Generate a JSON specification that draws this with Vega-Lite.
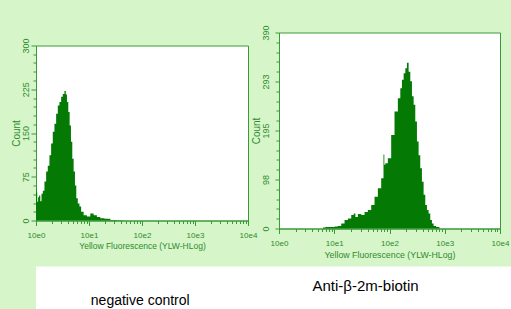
{
  "$schema": "https://vega.github.io/schema/vega-lite/v6.json",
  "background": "#d6f5c8",
  "padding": {"left": 10, "top": 23.5, "right": 0, "bottom": 0},
  "config": {
    "font": "Liberation Sans",
    "view": {"stroke": "#3a9a3a", "fill": "white"},
    "axis": {
      "grid": false,
      "domainColor": "#3a9a3a",
      "tickColor": "#3a9a3a",
      "labelColor": "#2e8b2e",
      "titleColor": "#2e8b2e",
      "titleFontWeight": "normal",
      "labelOverlap": false,
      "labelFlush": false
    }
  },
  "datasets": {
    "neg": [
      {"fluor": 1.0, "count": 55}, {"fluor": 1.04, "count": 48}, {"fluor": 1.07, "count": 32},
      {"fluor": 1.12, "count": 40}, {"fluor": 1.17, "count": 43}, {"fluor": 1.24, "count": 33},
      {"fluor": 1.30, "count": 46}, {"fluor": 1.39, "count": 51}, {"fluor": 1.50, "count": 67},
      {"fluor": 1.61, "count": 84}, {"fluor": 1.73, "count": 94}, {"fluor": 1.86, "count": 112},
      {"fluor": 2.00, "count": 132}, {"fluor": 2.15, "count": 152}, {"fluor": 2.31, "count": 166},
      {"fluor": 2.49, "count": 183}, {"fluor": 2.67, "count": 197}, {"fluor": 2.87, "count": 203},
      {"fluor": 3.09, "count": 212}, {"fluor": 3.32, "count": 217}, {"fluor": 3.57, "count": 222},
      {"fluor": 3.73, "count": 216}, {"fluor": 3.95, "count": 203}, {"fluor": 4.19, "count": 186},
      {"fluor": 4.44, "count": 163}, {"fluor": 4.70, "count": 135}, {"fluor": 4.98, "count": 106},
      {"fluor": 5.28, "count": 84}, {"fluor": 5.59, "count": 60}, {"fluor": 5.93, "count": 38},
      {"fluor": 6.37, "count": 29}, {"fluor": 6.85, "count": 24}, {"fluor": 7.36, "count": 15},
      {"fluor": 8.51, "count": 9}, {"fluor": 9.84, "count": 7}, {"fluor": 11.4, "count": 12},
      {"fluor": 13.1, "count": 9}, {"fluor": 15.2, "count": 6}, {"fluor": 17.6, "count": 4},
      {"fluor": 21.8, "count": 3}, {"fluor": 29.2, "count": 1}, {"fluor": 38.9, "count": 0.5},
      {"fluor": 52, "count": 0}
    ],
    "pos": [
      {"fluor": 6.25, "count": 2}, {"fluor": 7.69, "count": 3}, {"fluor": 9.47, "count": 3},
      {"fluor": 10.9, "count": 4}, {"fluor": 12.5, "count": 5}, {"fluor": 14.3, "count": 10},
      {"fluor": 16.5, "count": 17}, {"fluor": 18.9, "count": 20}, {"fluor": 21.8, "count": 27},
      {"fluor": 23.3, "count": 30}, {"fluor": 25.0, "count": 23}, {"fluor": 28.7, "count": 29},
      {"fluor": 33.0, "count": 27}, {"fluor": 37.9, "count": 33}, {"fluor": 43.5, "count": 37},
      {"fluor": 50.0, "count": 47}, {"fluor": 57.4, "count": 63}, {"fluor": 66.0, "count": 80},
      {"fluor": 75.8, "count": 100}, {"fluor": 80.0, "count": 147}, {"fluor": 81.2, "count": 127},
      {"fluor": 87.1, "count": 130}, {"fluor": 100, "count": 140}, {"fluor": 115, "count": 186},
      {"fluor": 132, "count": 233}, {"fluor": 152, "count": 259}, {"fluor": 162, "count": 279},
      {"fluor": 174, "count": 296}, {"fluor": 187, "count": 309}, {"fluor": 200, "count": 319},
      {"fluor": 214, "count": 330}, {"fluor": 230, "count": 312}, {"fluor": 246, "count": 293},
      {"fluor": 264, "count": 263}, {"fluor": 283, "count": 246}, {"fluor": 303, "count": 213},
      {"fluor": 325, "count": 173}, {"fluor": 348, "count": 146}, {"fluor": 373, "count": 120},
      {"fluor": 400, "count": 93}, {"fluor": 429, "count": 67}, {"fluor": 460, "count": 47},
      {"fluor": 493, "count": 37}, {"fluor": 528, "count": 30}, {"fluor": 566, "count": 17},
      {"fluor": 607, "count": 10}, {"fluor": 650, "count": 5}, {"fluor": 747, "count": 3},
      {"fluor": 859, "count": 0}
    ],
    "captions": [
      {"caption": "negative control"},
      {"caption": "Anti-β-2m-biotin"}
    ]
  },
  "spacing": 6,
  "vconcat": [
    {
      "spacing": -8,
      "hconcat": [
        {
          "spacing": 0,
          "vconcat": [
            {
              "width": 1,
              "height": 4,
              "view": {"fill": null, "stroke": null},
              "data": {"values": []},
              "mark": "point"
            },
            {
              "width": 212,
              "height": 175,
              "data": {"name": "neg"},
              "mark": {"type": "area", "interpolate": "step", "color": "#047a04"},
              "encoding": {
                "x": {
                  "field": "fluor", "type": "quantitative",
                  "scale": {"type": "log", "domain": [1, 10000]},
                  "axis": {
                    "values": [1,2,3,4,5,6,7,8,9,10,20,30,40,50,60,70,80,90,100,200,300,400,500,600,700,800,900,1000,2000,3000,4000,5000,6000,7000,8000,9000,10000],
                    "labelExpr": "indexof([1,10,100,1000,10000], datum.value) >= 0 ? '10e' + round(log(datum.value)/LN10) : ''",
                    "tickSize": {"condition": {"test": "indexof([1,10,100,1000,10000], datum.value) >= 0", "value": 5}, "value": 3},
                    "labelFontSize": 8, "labelPadding": 6,
                    "title": "Yellow Fluorescence (YLW-HLog)", "titleFontSize": 8.5, "titlePadding": 2
                  }
                },
                "y": {
                  "field": "count", "type": "quantitative",
                  "scale": {"domain": [0, 300]},
                  "axis": {
                    "values": [0,15,30,45,60,75,90,105,120,135,150,165,180,195,210,225,240,255,270,285,300],
                    "labelExpr": "datum.value % 75 == 0 ? datum.label : ''",
                    "tickSize": {"condition": {"test": "datum.value % 75 == 0", "value": 5}, "value": 3},
                    "labelAngle": 270, "labelAlign": "center", "labelBaseline": "bottom",
                    "labelFontSize": 9, "labelPadding": 1,
                    "title": "Count", "titleFontSize": 10, "titlePadding": 0
                  }
                }
              }
            }
          ]
        },
        {
          "width": 221,
          "height": 196,
          "data": {"name": "pos"},
          "mark": {"type": "area", "interpolate": "step", "color": "#047a04"},
          "encoding": {
            "x": {
              "field": "fluor", "type": "quantitative",
              "scale": {"type": "log", "domain": [1, 10000]},
              "axis": {
                "values": [1,2,3,4,5,6,7,8,9,10,20,30,40,50,60,70,80,90,100,200,300,400,500,600,700,800,900,1000,2000,3000,4000,5000,6000,7000,8000,9000,10000],
                "labelExpr": "indexof([1,10,100,1000,10000], datum.value) >= 0 ? '10e' + round(log(datum.value)/LN10) : ''",
                "tickSize": {"condition": {"test": "indexof([1,10,100,1000,10000], datum.value) >= 0", "value": 5}, "value": 3},
                "labelFontSize": 8, "labelPadding": 6,
                "title": "Yellow Fluorescence (YLW-HLog)", "titleFontSize": 8.8, "titlePadding": 3
              }
            },
            "y": {
              "field": "count", "type": "quantitative",
              "scale": {"domain": [0, 390]},
              "axis": {
                "values": [0,19.5,39,58.5,78,97.5,117,136.5,156,175.5,195,214.5,234,253.5,273,292.5,312,331.5,351,370.5,390],
                "labelExpr": "datum.value % 97.5 == 0 ? format(datum.value, '.0f') : ''",
                "tickSize": {"condition": {"test": "datum.value % 97.5 == 0", "value": 4}, "value": 3},
                "labelAngle": 270, "labelAlign": "center", "labelBaseline": "bottom",
                "labelFontSize": 9, "labelPadding": 5,
                "title": "Count", "titleFontSize": 10, "titlePadding": 0
              }
            }
          }
        }
      ]
    },
    {
      "width": 475,
      "height": 43,
      "view": {"fill": "white", "stroke": null},
      "data": {"name": "captions"},
      "mark": {"type": "text", "baseline": "middle", "align": "center", "color": "black"},
      "encoding": {
        "text": {"field": "caption", "type": "nominal"},
        "x": {
          "field": "caption", "type": "nominal", "axis": null,
          "scale": {"type": "point", "domain": ["negative control", "Anti-β-2m-biotin"], "padding": 0.5539, "align": 0.4175}
        },
        "y": {
          "field": "caption", "type": "nominal", "axis": null,
          "scale": {"type": "point", "domain": ["Anti-β-2m-biotin", "negative control"], "padding": 4.875, "align": 0.692}
        },
        "size": {
          "field": "caption", "type": "nominal", "legend": null,
          "scale": {"domain": ["negative control", "Anti-β-2m-biotin"], "range": [14, 15]}
        }
      }
    }
  ]
}
